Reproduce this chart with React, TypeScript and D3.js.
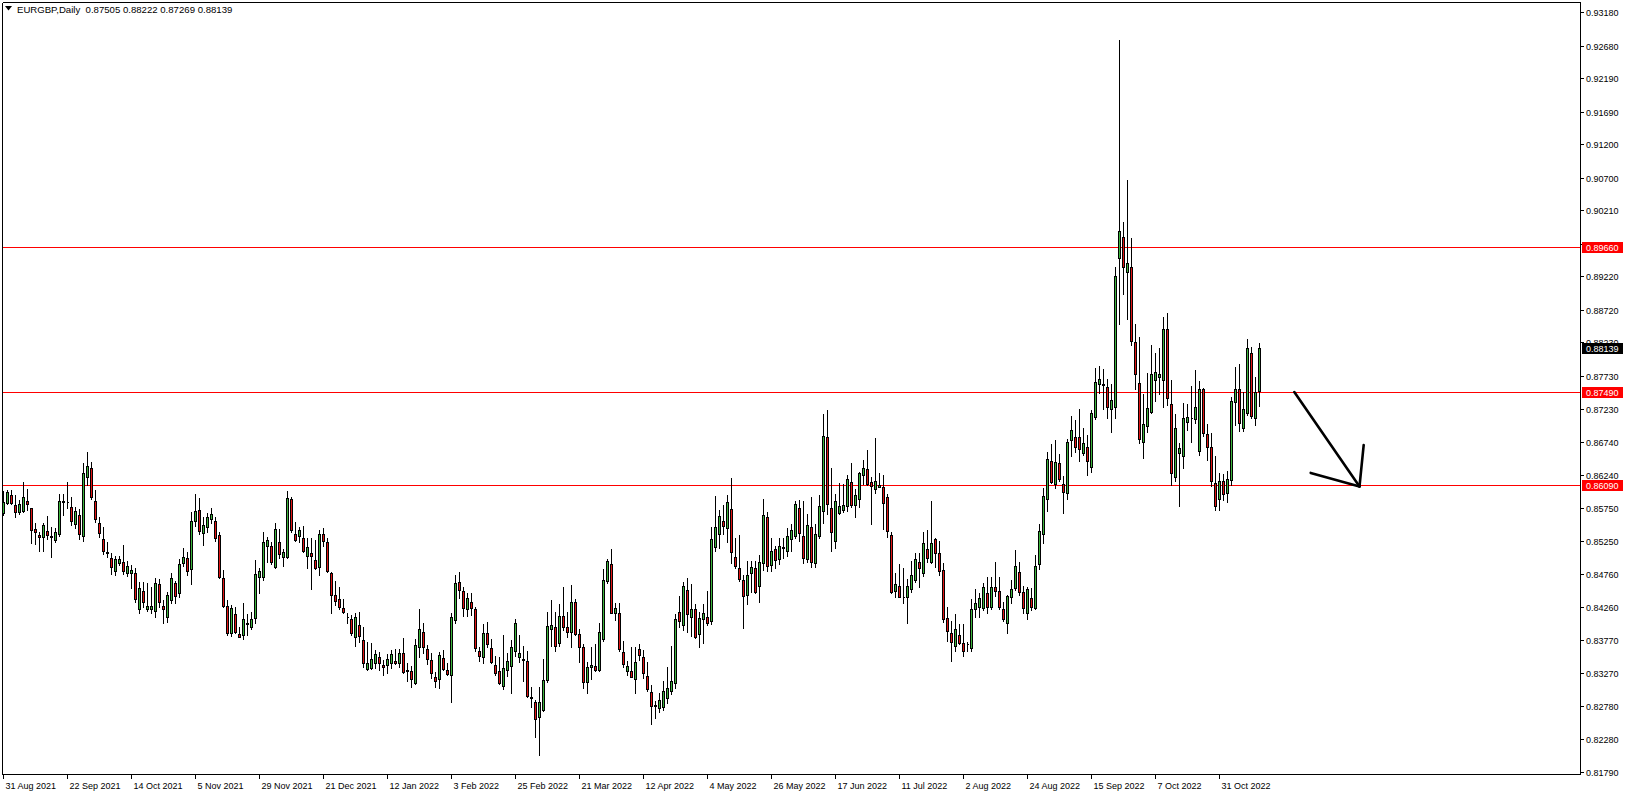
import React from 'react';
import * as d3 from 'd3';

// ---- Data (EURGBP Daily) ----
const opens = [
0.85675,0.85815,0.85935,0.85785,0.85690,0.85705,0.85850,0.85740,0.85430,0.85340,
0.85305,0.85395,0.85330,0.85265,0.85350,0.85830,0.85840,0.85755,0.85505,0.85635,
0.85320,0.86215,0.86340,0.85850,0.85515,0.85285,0.85085,0.84995,0.84795,0.84915,
0.84930,0.84775,0.84765,0.84765,0.84225,0.84500,0.84225,0.84225,0.84200,0.84605,
0.84275,0.84105,0.84365,0.84615,0.84465,0.84915,0.84990,0.84825,0.85555,0.85715,
0.85365,0.85455,0.85575,0.85545,0.85335,0.84690,0.84280,0.83875,0.84150,0.83855,
0.83840,0.84010,0.83965,0.84090,0.84715,0.84715,0.85180,0.85175,0.84855,0.85235,
0.85015,0.85015,0.85875,0.85355,0.85330,0.85290,0.85030,0.85065,0.84965,0.84855,
0.85355,0.85240,0.84765,0.84440,0.84375,0.84240,0.84115,0.84075,0.83805,0.83985,
0.83765,0.83335,0.83340,0.83415,0.83515,0.83385,0.83385,0.83415,0.83445,0.83415,
0.83565,0.83315,0.83295,0.83125,0.83665,0.83885,0.83625,0.83465,0.83215,0.83180,
0.83490,0.83315,0.83235,0.84065,0.84630,0.84495,0.84225,0.84330,0.84225,0.83600,
0.83505,0.83865,0.83640,0.83390,0.83300,0.83080,0.83315,0.83380,0.83605,0.83515,
0.83480,0.83450,0.82910,0.82830,0.82605,0.82715,0.83165,0.83925,0.83955,0.83715,
0.84125,0.83955,0.83890,0.84335,0.83850,0.83655,0.83140,0.83355,0.83375,0.83315,
0.83785,0.84655,0.84900,0.84165,0.84165,0.83580,0.83305,0.83300,0.83175,0.83625,
0.83505,0.83230,0.82980,0.82770,0.82750,0.82765,0.82900,0.83005,0.83115,0.84180,
0.83990,0.84515,0.84115,0.84225,0.83850,0.84075,0.84105,0.84055,0.85165,0.85350,
0.85550,0.85440,0.85725,0.85005,0.84840,0.84660,0.84445,0.84765,0.84840,0.84575,
0.84915,0.85605,0.84890,0.85135,0.84975,0.85150,0.85105,0.85275,0.85325,0.85740,
0.85325,0.84980,0.85455,0.84925,0.85330,0.85705,0.86805,0.85740,0.85255,0.85675,
0.85715,0.85780,0.86130,0.85795,0.85875,0.86235,0.86325,0.86130,0.86025,0.86065,
0.86055,0.85905,0.85335,0.84495,0.84570,0.84410,0.84405,0.84525,0.84670,0.84930,
0.84775,0.85125,0.84940,0.85275,0.85065,0.84810,0.84100,0.83865,0.83670,0.83840,
0.83715,0.83700,0.83650,0.84225,0.84265,0.84240,0.84475,0.84265,0.84565,0.84495,
0.84225,0.84015,0.84405,0.84540,0.84780,0.84490,0.84165,0.84390,0.84240,0.84900,
0.85350,0.85875,0.86445,0.86100,0.86415,0.86100,0.85965,0.86765,0.86815,0.86805,
0.86565,0.86655,0.86355,0.87115,0.87600,0.87605,0.87565,0.87225,0.87265,0.89500,
0.89805,0.89290,0.89355,0.88230,0.87615,0.86740,0.86980,0.87190,0.87665,0.87715,
0.87665,0.88425,0.87300,0.86205,0.86575,0.86525,0.87040,0.87090,0.87075,0.86605,
0.87525,0.86850,0.86655,0.86115,0.85875,0.86155,0.85975,0.86165,0.87340,0.87525,
0.86940,0.87175,0.88065,0.87090,0.87505
];
const highs = [
0.86005,0.86015,0.86015,0.85935,0.85865,0.86135,0.86030,0.85750,0.85515,0.85380,
0.85515,0.85620,0.85455,0.85450,0.85955,0.85955,0.86135,0.85905,0.85755,0.85730,
0.86415,0.86585,0.86430,0.86015,0.85605,0.85455,0.85235,0.85065,0.85025,0.85030,
0.85185,0.84955,0.84885,0.84840,0.84640,0.84635,0.84615,0.84565,0.84690,0.84685,
0.84365,0.84490,0.84765,0.84655,0.84980,0.85140,0.85090,0.85690,0.85955,0.85895,
0.85605,0.85665,0.85740,0.85615,0.85390,0.84815,0.84365,0.84290,0.84265,0.83955,
0.84315,0.84155,0.84190,0.84965,0.84850,0.85385,0.85305,0.85240,0.85525,0.85425,
0.85125,0.86000,0.85905,0.85535,0.85465,0.85475,0.85295,0.85290,0.85265,0.85415,
0.85440,0.85300,0.84790,0.84655,0.84565,0.84380,0.84165,0.84140,0.84165,0.84190,
0.83965,0.83740,0.83725,0.83615,0.83585,0.83465,0.83550,0.83615,0.83625,0.83625,
0.83790,0.83415,0.83375,0.83785,0.84225,0.84025,0.83690,0.83565,0.83290,0.83585,
0.83615,0.83415,0.84175,0.84740,0.84785,0.84565,0.84465,0.84475,0.84265,0.83655,
0.84005,0.84040,0.83785,0.83525,0.83515,0.83840,0.83565,0.83765,0.84080,0.83840,
0.83675,0.83600,0.83065,0.82865,0.83055,0.83480,0.84190,0.84365,0.84190,0.84305,
0.84565,0.84190,0.84590,0.84375,0.83925,0.83705,0.83430,0.83665,0.83705,0.84015,
0.84835,0.84980,0.85125,0.84325,0.84325,0.83750,0.83455,0.83655,0.83655,0.83705,
0.83615,0.83440,0.83090,0.82850,0.82965,0.83150,0.83365,0.83680,0.84155,0.84425,
0.84640,0.84690,0.84605,0.84305,0.84190,0.84305,0.84500,0.85455,0.85925,0.85715,
0.85790,0.85940,0.86200,0.85290,0.85340,0.84740,0.84950,0.84950,0.84955,0.85040,
0.85875,0.85690,0.85290,0.85180,0.85290,0.85290,0.85450,0.85500,0.85850,0.85865,
0.85850,0.85655,0.85915,0.85500,0.85940,0.87155,0.87215,0.86340,0.85955,0.86115,
0.86105,0.86245,0.86415,0.86030,0.86290,0.86465,0.86615,0.86215,0.86790,0.86265,
0.86240,0.85955,0.85380,0.84765,0.84905,0.84840,0.84680,0.84950,0.85065,0.85065,
0.85390,0.85415,0.85850,0.85295,0.85250,0.84925,0.84255,0.84055,0.84155,0.84005,
0.84005,0.83740,0.84375,0.84530,0.84465,0.84615,0.84705,0.84705,0.84930,0.84705,
0.84340,0.84440,0.84665,0.85115,0.84940,0.84575,0.84565,0.84540,0.85040,0.85505,
0.86040,0.86590,0.86700,0.86765,0.86555,0.86225,0.86775,0.87125,0.87065,0.87225,
0.86940,0.86835,0.87215,0.87840,0.87875,0.87825,0.87675,0.87605,0.89355,0.92765,
0.90035,0.90665,0.89790,0.88505,0.88315,0.87455,0.87765,0.88190,0.88075,0.88140,
0.88605,0.88665,0.87665,0.87155,0.86725,0.87315,0.87305,0.87575,0.87815,0.87650,
0.87540,0.87000,0.86875,0.86525,0.86265,0.86250,0.86300,0.87415,0.87855,0.87905,
0.87490,0.88275,0.88155,0.87715,0.88222
];
const lows = [
0.85640,0.85800,0.85805,0.85615,0.85660,0.85690,0.85715,0.85225,0.85200,0.85105,
0.85105,0.85280,0.85005,0.85235,0.85325,0.85640,0.85740,0.85490,0.85450,0.85275,
0.85255,0.86090,0.85875,0.85535,0.85315,0.85050,0.85005,0.84755,0.84735,0.84885,
0.84750,0.84725,0.84540,0.84330,0.84175,0.84265,0.84205,0.84165,0.84105,0.84265,
0.84025,0.84040,0.84325,0.84325,0.84415,0.84875,0.84740,0.84605,0.85480,0.85355,
0.85195,0.85390,0.85515,0.85255,0.84690,0.84265,0.83840,0.83830,0.83865,0.83805,
0.83780,0.83840,0.83925,0.84015,0.84465,0.84665,0.84940,0.84905,0.84850,0.85000,
0.84880,0.84990,0.85390,0.85255,0.85240,0.85090,0.84850,0.84535,0.84835,0.84740,
0.85180,0.84780,0.84165,0.84290,0.84230,0.84165,0.84025,0.83840,0.83675,0.83740,
0.83365,0.83315,0.83325,0.83340,0.83315,0.83235,0.83265,0.83350,0.83400,0.83355,
0.83265,0.83155,0.83055,0.83105,0.83505,0.83565,0.83405,0.83190,0.83055,0.83040,
0.83315,0.83240,0.82840,0.84015,0.84390,0.84125,0.84125,0.84140,0.83605,0.83455,
0.83425,0.83655,0.83415,0.83240,0.83105,0.83030,0.83225,0.82965,0.83525,0.83430,
0.83155,0.82915,0.82755,0.82305,0.82040,0.82705,0.83140,0.83675,0.83600,0.83675,
0.83915,0.83815,0.83655,0.83840,0.83440,0.83050,0.82965,0.83175,0.83305,0.83305,
0.83755,0.84625,0.84165,0.84065,0.83605,0.83355,0.83240,0.83205,0.82965,0.83465,
0.83190,0.83000,0.82500,0.82600,0.82680,0.82715,0.82815,0.82955,0.83050,0.83965,
0.83915,0.83890,0.83825,0.83790,0.83665,0.83725,0.83990,0.84000,0.85100,0.85150,
0.85350,0.85240,0.84925,0.84850,0.84655,0.83940,0.84300,0.84480,0.84475,0.84330,
0.84815,0.84805,0.84805,0.84840,0.84905,0.84990,0.85030,0.85105,0.85300,0.85255,
0.84925,0.84940,0.84855,0.84865,0.85290,0.85515,0.85655,0.85105,0.85140,0.85655,
0.85680,0.85705,0.85765,0.85615,0.85765,0.86105,0.86090,0.85505,0.85975,0.86055,
0.85435,0.85315,0.84465,0.84405,0.84405,0.84315,0.84025,0.84490,0.84630,0.84565,
0.84730,0.84930,0.84915,0.84865,0.84740,0.84040,0.83755,0.83455,0.83600,0.83705,
0.83520,0.83600,0.83600,0.84105,0.84105,0.84215,0.84175,0.84225,0.84425,0.84225,
0.84055,0.83865,0.84315,0.84515,0.84440,0.84165,0.84075,0.84215,0.84225,0.84825,
0.85215,0.85705,0.86125,0.86040,0.86155,0.85665,0.85875,0.86525,0.86590,0.86455,
0.86540,0.86240,0.86290,0.87085,0.87465,0.87230,0.87100,0.86890,0.87100,0.88505,
0.88955,0.88580,0.88190,0.87525,0.86715,0.86490,0.86890,0.87165,0.87355,0.87455,
0.87255,0.87290,0.86090,0.86155,0.85775,0.86340,0.86915,0.86740,0.87015,0.86540,
0.86825,0.86465,0.86075,0.85715,0.85715,0.85865,0.85840,0.86090,0.86990,0.86900,
0.86900,0.87140,0.87100,0.86990,0.87269
];
const closes = [
0.85830,0.85980,0.85825,0.85680,0.85805,0.85905,0.85800,0.85410,0.85380,0.85305,
0.85485,0.85345,0.85305,0.85385,0.85845,0.85850,0.85830,0.85545,0.85700,0.85350,
0.86265,0.86370,0.85905,0.85575,0.85365,0.85095,0.85065,0.84855,0.84975,0.84975,
0.84805,0.84875,0.84815,0.84375,0.84540,0.84330,0.84275,0.84275,0.84625,0.84340,
0.84235,0.84435,0.84690,0.84425,0.84900,0.85005,0.84805,0.85550,0.85705,0.85405,
0.85485,0.85615,0.85655,0.85290,0.84715,0.84280,0.83865,0.84240,0.83890,0.83815,
0.84075,0.84020,0.84075,0.84750,0.84800,0.85235,0.85265,0.84940,0.85425,0.85050,
0.85080,0.85890,0.85415,0.85265,0.85415,0.85105,0.85155,0.85030,0.84850,0.85355,
0.85250,0.84805,0.84440,0.84355,0.84255,0.84190,0.84105,0.83875,0.84105,0.83825,
0.83415,0.83415,0.83475,0.83550,0.83415,0.83365,0.83475,0.83550,0.83415,0.83565,
0.83290,0.83295,0.83175,0.83685,0.83925,0.83665,0.83475,0.83265,0.83155,0.83535,
0.83335,0.83260,0.84105,0.84615,0.84515,0.84250,0.84390,0.84250,0.83640,0.83530,
0.83865,0.83700,0.83440,0.83265,0.83115,0.83340,0.83450,0.83660,0.84015,0.83565,
0.83460,0.82930,0.82890,0.82575,0.82830,0.83165,0.83975,0.83990,0.83680,0.84125,
0.83955,0.83890,0.84335,0.83855,0.83655,0.83140,0.83360,0.83390,0.83315,0.83880,
0.84665,0.84950,0.84175,0.84240,0.83635,0.83405,0.83375,0.83215,0.83430,0.83535,
0.83265,0.83030,0.82780,0.82785,0.82860,0.83000,0.83040,0.83150,0.84080,0.84055,
0.84575,0.84150,0.84225,0.83815,0.84090,0.84165,0.84015,0.85280,0.85455,0.85620,
0.85480,0.85830,0.85080,0.84880,0.84675,0.84420,0.84735,0.84855,0.84490,0.84930,
0.85635,0.84875,0.85095,0.84960,0.85170,0.85160,0.85320,0.85410,0.85805,0.85365,
0.85000,0.85485,0.84940,0.85350,0.85770,0.86825,0.85805,0.85390,0.85850,0.85780,
0.85790,0.86175,0.85790,0.85935,0.86270,0.86340,0.86105,0.86070,0.86150,0.86095,
0.85815,0.85405,0.84490,0.84600,0.84415,0.84405,0.84580,0.84735,0.84980,0.84840,
0.85215,0.84990,0.85215,0.85065,0.84805,0.84085,0.83895,0.83730,0.83925,0.83715,
0.83600,0.83705,0.84225,0.84315,0.84390,0.84565,0.84255,0.84555,0.84505,0.84265,
0.84075,0.84430,0.84525,0.84870,0.84490,0.84240,0.84525,0.84265,0.84870,0.85395,
0.85920,0.86475,0.86140,0.86430,0.86175,0.85990,0.86730,0.86915,0.86665,0.86625,
0.86715,0.86455,0.87165,0.87630,0.87675,0.87585,0.87265,0.87365,0.89225,0.89895,
0.89365,0.89420,0.88255,0.87750,0.86775,0.87000,0.87240,0.87750,0.87780,0.87755,
0.88425,0.87390,0.86265,0.86940,0.86640,0.87090,0.87105,0.87100,0.87255,0.87525,
0.86865,0.86665,0.86155,0.85780,0.86155,0.85950,0.86175,0.87350,0.87525,0.87025,
0.87230,0.88140,0.87125,0.87480,0.88139
];

const dateLabels = [
  '31 Aug 2021', '22 Sep 2021', '14 Oct 2021', '5 Nov 2021', '29 Nov 2021',
  '21 Dec 2021', '12 Jan 2022', '3 Feb 2022', '25 Feb 2022', '21 Mar 2022',
  '12 Apr 2022', '4 May 2022', '26 May 2022', '17 Jun 2022', '11 Jul 2022',
  '2 Aug 2022', '24 Aug 2022', '15 Sep 2022', '7 Oct 2022', '31 Oct 2022'
];
const barsPerLabel = 16;

const priceTicks = [
  0.93180, 0.92680, 0.92190, 0.91690, 0.91200, 0.90700, 0.90210, 0.89710,
  0.89220, 0.88720, 0.88230, 0.87730, 0.87230, 0.86740, 0.86240, 0.85750,
  0.85250, 0.84760, 0.84260, 0.83770, 0.83270, 0.82780, 0.82280, 0.81790
];

const levels = [0.89660, 0.87490, 0.86090];

// arrow drawn on the chart: [bar index, price]
const arrowShaft = [[322.7, 0.87485], [339.0, 0.86069]];
const arrowWingLeft = [[326.8, 0.86271], [339.0, 0.86069]];
const arrowWingRight = [[340.05, 0.86691], [339.0, 0.86069]];

const symbol = 'EURGBP,Daily';

const W = 1626;
const H = 795;
const FRAME_R = 1580;
const FRAME_B = 774;
const FONT = '"Liberation Sans", Arial, sans-serif';
const BULL = '#3cb43c';
const BEAR = '#e01414';

export default function App() {
  const n = closes.length;
  const x = d3.scaleLinear().domain([0, 1]).range([3.5, 7.5]);
  const y = d3.scaleLinear().domain([0.81790, 0.93180]).range([771.7, 12.3]);
  const ry = (p: number) => Math.round(y(p));

  const last = n - 1;
  const fmt = d3.format('.5f');
  const title = `${symbol}  ${fmt(opens[last])} ${fmt(highs[last])} ${fmt(lows[last])} ${fmt(closes[last])}`;

  const candles = d3.range(n).map((i) => {
    const cx = x(i);
    const o = opens[i], c = closes[i];
    const top = ry(Math.max(o, c)) + 0.5;
    const bot = ry(Math.min(o, c)) + 0.5;
    const hi = ry(highs[i]);
    const lo = ry(lows[i]) + 1;
    const bull = c >= o;
    return (
      <g key={i}>
        <line x1={cx} x2={cx} y1={hi} y2={lo} stroke="#000" strokeWidth={1} />
        <path
          d={`M${cx - 1},${top}H${cx + 1}V${bot}H${cx - 1}Z`}
          fill={bull ? BULL : BEAR}
          stroke="#000"
          strokeWidth={1}
        />
      </g>
    );
  });

  const line = d3
    .line<number[]>()
    .x((d) => x(d[0]))
    .y((d) => y(d[1]));

  const lastClose = closes[last];

  return (
    <svg
      width={W}
      height={H}
      style={{ position: 'absolute', left: 0, top: 0, background: '#fff', display: 'block' }}
      fontFamily={FONT}
    >
      <rect x={0} y={0} width={W} height={H} fill="#fff" />
      {/* title */}
      <path d="M5,6 H12 L8.5,10.5 Z" fill="#000" />
      <text x={17} y={13} fontSize={9.6} fill="#000" style={{ whiteSpace: 'pre' }}>{title}</text>

      {/* level lines */}
      <g shapeRendering="crispEdges">
        {levels.map((p) => (
          <line key={p} x1={2} x2={FRAME_R} y1={ry(p) + 0.5} y2={ry(p) + 0.5} stroke="#ff0000" strokeWidth={1} />
        ))}
      </g>

      {/* candles */}
      <g shapeRendering="crispEdges">{candles}</g>

      {/* arrow */}
      <g stroke="#000" strokeWidth={2.6} fill="none" strokeLinecap="round">
        <path d={line(arrowShaft) || ''} />
        <path d={line(arrowWingLeft) || ''} />
        <path d={line(arrowWingRight) || ''} />
      </g>

      {/* frame */}
      <g shapeRendering="crispEdges" stroke="#000" strokeWidth={1}>
        <line x1={2.5} x2={2.5} y1={2.5} y2={FRAME_B + 0.5} />
        <line x1={2.5} x2={FRAME_R + 0.5} y1={2.5} y2={2.5} />
        <line x1={FRAME_R + 0.5} x2={FRAME_R + 0.5} y1={2.5} y2={FRAME_B + 0.5} />
        <line x1={2.5} x2={FRAME_R + 0.5} y1={FRAME_B + 0.5} y2={FRAME_B + 0.5} />
      </g>

      {/* price axis */}
      <g shapeRendering="crispEdges">
        {priceTicks.map((p) => (
          <g key={p}>
            <line x1={FRAME_R + 1} x2={FRAME_R + 4} y1={ry(p) + 0.5} y2={ry(p) + 0.5} stroke="#000" />
            <text x={1586} y={ry(p) + 4} fontSize={9} fill="#000">{fmt(p)}</text>
          </g>
        ))}
      </g>

      {/* level labels */}
      {levels.map((p) => (
        <g key={'l' + p}>
          <rect x={1582} y={ry(p) - 5} width={41} height={11} fill="#ff0000" />
          <text x={1586} y={ry(p) + 4} fontSize={9} fill="#fff">{fmt(p)}</text>
        </g>
      ))}
      <g>
        <rect x={1582} y={ry(lastClose) - 5} width={41} height={11} fill="#000" />
        <text x={1586} y={ry(lastClose) + 4} fontSize={9} fill="#fff">{fmt(lastClose)}</text>
      </g>

      {/* time axis */}
      <g shapeRendering="crispEdges">
        {dateLabels.map((lab, k) => {
          const tx = x(k * barsPerLabel);
          return (
            <g key={lab}>
              <line x1={tx} x2={tx} y1={FRAME_B + 1} y2={FRAME_B + 5} stroke="#000" />
              <text x={tx + 2} y={789} fontSize={9} fill="#000">{lab}</text>
            </g>
          );
        })}
      </g>
    </svg>
  );
}
